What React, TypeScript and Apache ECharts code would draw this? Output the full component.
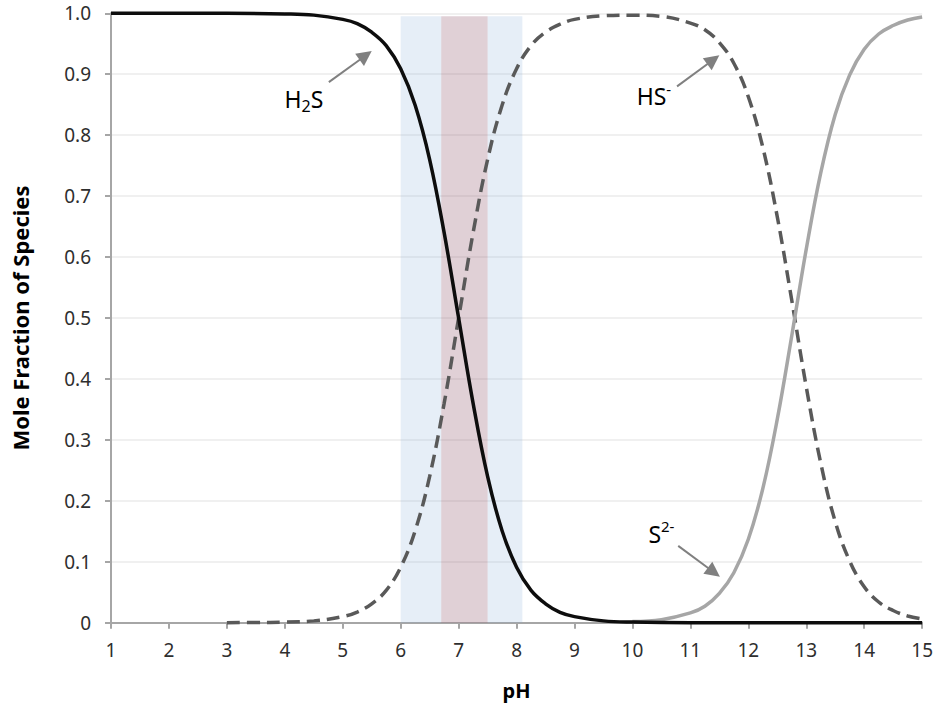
import React, { useEffect, useRef } from "react";
import * as echarts from "echarts";

// ---- data ----
const phH2S = [1, 2, 3, 4, 4.5, 5, 5.25, 5.5, 5.75, 6, 6.25, 6.5, 6.75, 7, 7.25, 7.5, 7.75, 8, 8.25, 8.5, 8.75, 9, 9.5, 10, 11, 12, 13, 14, 15];
const fracH2S = [1, 1, 1, 0.999, 0.997, 0.99, 0.983, 0.969, 0.947, 0.909, 0.849, 0.76, 0.64, 0.5, 0.36, 0.24, 0.151, 0.091, 0.053, 0.031, 0.017, 0.01, 0.003, 0.001, 0, 0, 0, 0, 0];

const phHS = [3, 3.5, 4, 4.5, 5, 5.25, 5.5, 5.75, 6, 6.25, 6.5, 6.75, 7, 7.25, 7.5, 7.75, 8, 8.25, 8.5, 8.75, 9, 9.5, 10, 10.5, 11, 11.25, 11.5, 11.75, 12, 12.25, 12.5, 12.75, 13, 13.25, 13.5, 13.75, 14, 14.25, 14.5, 14.75, 15];
const fracHS = [0.0001, 0.0003, 0.001, 0.003, 0.01, 0.0175, 0.031, 0.053, 0.091, 0.151, 0.24, 0.36, 0.5, 0.64, 0.76, 0.849, 0.909, 0.947, 0.969, 0.982, 0.99, 0.996, 0.997, 0.995, 0.984, 0.973, 0.952, 0.918, 0.863, 0.78, 0.666, 0.529, 0.387, 0.262, 0.166, 0.101, 0.059, 0.034, 0.02, 0.011, 0.006];

const phS = [10, 10.5, 11, 11.25, 11.5, 11.75, 12, 12.25, 12.5, 12.75, 13, 13.25, 13.5, 13.75, 14, 14.25, 14.5, 14.75, 15];
const fracS = [0.002, 0.005, 0.016, 0.027, 0.048, 0.082, 0.137, 0.22, 0.334, 0.471, 0.613, 0.738, 0.834, 0.899, 0.941, 0.966, 0.98, 0.989, 0.994];

// shaded pH bands [from, to]
const blueBands = [[6.0, 6.7], [7.5, 8.1]];
const pinkBands = [[6.7, 7.5]];
const bandTop = 0.995;

// annotation anchors (data coordinates)
const arrows = [
  { from: [4.76, 0.887], to: [5.5, 0.938] },
  { from: [10.77, 0.88], to: [11.5, 0.931] },
  { from: [10.79, 0.126], to: [11.51, 0.0755] },
];
const labels = [
  { at: [4.33, 0.86], text: "{m|H}{sub|2}{m|S}" },
  { at: [10.37, 0.864], text: "{m|HS}{sup|-}" },
  { at: [10.5, 0.146], text: "{m|S}{sup|2-}" },
];

const FONT = "'Noto Sans', 'DejaVu Sans', sans-serif";

const pairs = (xs: number[], ys: number[]) => xs.map((x, i) => [x, ys[i]]);

export default function App() {
  const ref = useRef<HTMLDivElement>(null);
  useEffect(() => {
    if (!ref.current) return;
    const chart = echarts.init(ref.current, null, { renderer: "svg" });
    const option: any = {
      animation: false,
      backgroundColor: "#ffffff",
      grid: { left: 111, right: 13.5, top: 13.3, bottom: 83.3 },
      xAxis: {
        type: "value",
        min: 1,
        max: 15,
        interval: 1,
        name: "pH",
        nameLocation: "middle",
        nameGap: 58,
        nameTextStyle: { fontFamily: FONT, fontWeight: "bold", fontSize: 20, color: "#000" },
        axisLine: { lineStyle: { color: "#a6a6a6", width: 2 } },
        axisTick: { show: true, length: 6, lineStyle: { color: "#a6a6a6", width: 2 } },
        axisLabel: { fontFamily: FONT, fontSize: 19, color: "#2e2e2e", margin: 18 },
        splitLine: { show: false },
      },
      yAxis: {
        type: "value",
        min: 0,
        max: 1,
        interval: 0.1,
        name: "Mole Fraction of Species",
        nameLocation: "middle",
        nameGap: 80,
        nameTextStyle: { fontFamily: FONT, fontWeight: "bold", fontSize: 22, color: "#000" },
        axisLine: { show: true, lineStyle: { color: "#a6a6a6", width: 2 } },
        axisTick: { show: true, length: 6, lineStyle: { color: "#a6a6a6", width: 2 } },
        axisLabel: {
          fontFamily: FONT,
          fontSize: 19,
          color: "#2e2e2e",
          margin: 20,
          formatter: (v: number) => (v === 0 ? "0" : v.toFixed(1)),
        },
        splitLine: { show: true, lineStyle: { color: "#ebebeb", width: 1.5 } },
      },
      series: [
        {
          name: "HS-",
          type: "line",
          data: pairs(phHS, fracHS),
          showSymbol: false,
          smooth: 0.4,
          clip: false,
          z: 2,
          lineStyle: { color: "#595959", width: 3.5, type: [13, 7], cap: "butt" },
        },
        {
          name: "S2-",
          type: "line",
          data: pairs(phS, fracS),
          showSymbol: false,
          smooth: 0.4,
          clip: false,
          z: 3,
          lineStyle: { color: "#a6a6a6", width: 3.5 },
        },
        {
          name: "H2S",
          type: "line",
          data: pairs(phH2S, fracH2S),
          showSymbol: false,
          smooth: 0.4,
          clip: false,
          z: 4,
          lineStyle: { color: "#0d0d0d", width: 3.5 },
        },
        {
          name: "bands",
          type: "line",
          data: [],
          z: 10,
          silent: true,
          markArea: {
            silent: true,
            data: [
              ...blueBands.map((b) => [
                { xAxis: b[0], yAxis: 0, itemStyle: { color: "rgba(130,170,215,0.2)" } },
                { xAxis: b[1], yAxis: bandTop },
              ]),
              ...pinkBands.map((b) => [
                { xAxis: b[0], yAxis: 0, itemStyle: { color: "rgba(152,98,118,0.3)" } },
                { xAxis: b[1], yAxis: bandTop },
              ]),
            ],
          },
        },
      ],
    };
    chart.setOption(option);

    const px = (p: number[]) => chart.convertToPixel({ gridIndex: 0 }, p) as number[];
    const graphics: any[] = [];
    const color = "#808080";
    arrows.forEach((a) => {
      const t = px(a.from);
      const h = px(a.to);
      const dx = h[0] - t[0];
      const dy = h[1] - t[1];
      const len = Math.sqrt(dx * dx + dy * dy);
      const ux = dx / len;
      const uy = dy / len;
      const headLen = 15;
      const headHalf = 7.5;
      const bx = h[0] - ux * headLen;
      const by = h[1] - uy * headLen;
      graphics.push({
        type: "line",
        z: 20,
        shape: { x1: t[0], y1: t[1], x2: bx + ux * 2, y2: by + uy * 2 },
        style: { stroke: color, lineWidth: 2 },
      });
      graphics.push({
        type: "polygon",
        z: 20,
        shape: {
          points: [
            [h[0], h[1]],
            [bx - uy * headHalf, by + ux * headHalf],
            [bx + uy * headHalf, by - ux * headHalf],
          ],
        },
        style: { fill: color },
      });
    });
    labels.forEach((l) => {
      const p = px(l.at);
      graphics.push({
        type: "text",
        z: 20,
        x: p[0],
        y: p[1],
        style: {
          text: l.text,
          align: "center",
          verticalAlign: "middle",
          fill: "#000",
          rich: {
            m: { fontFamily: FONT, fontSize: 23, lineHeight: 30, fill: "#000" },
            sub: { fontFamily: FONT, fontSize: 16, lineHeight: 14, verticalAlign: "bottom", fill: "#000" },
            sup: { fontFamily: FONT, fontSize: 15, lineHeight: 15, verticalAlign: "top", fill: "#000" },
          },
        },
      });
    });
    chart.setOption({ graphic: graphics });

    return () => chart.dispose();
  }, []);
  return (
    <div
      ref={ref}
      style={{ position: "absolute", left: 0, top: 0, width: 936, height: 706 }}
    />
  );
}
